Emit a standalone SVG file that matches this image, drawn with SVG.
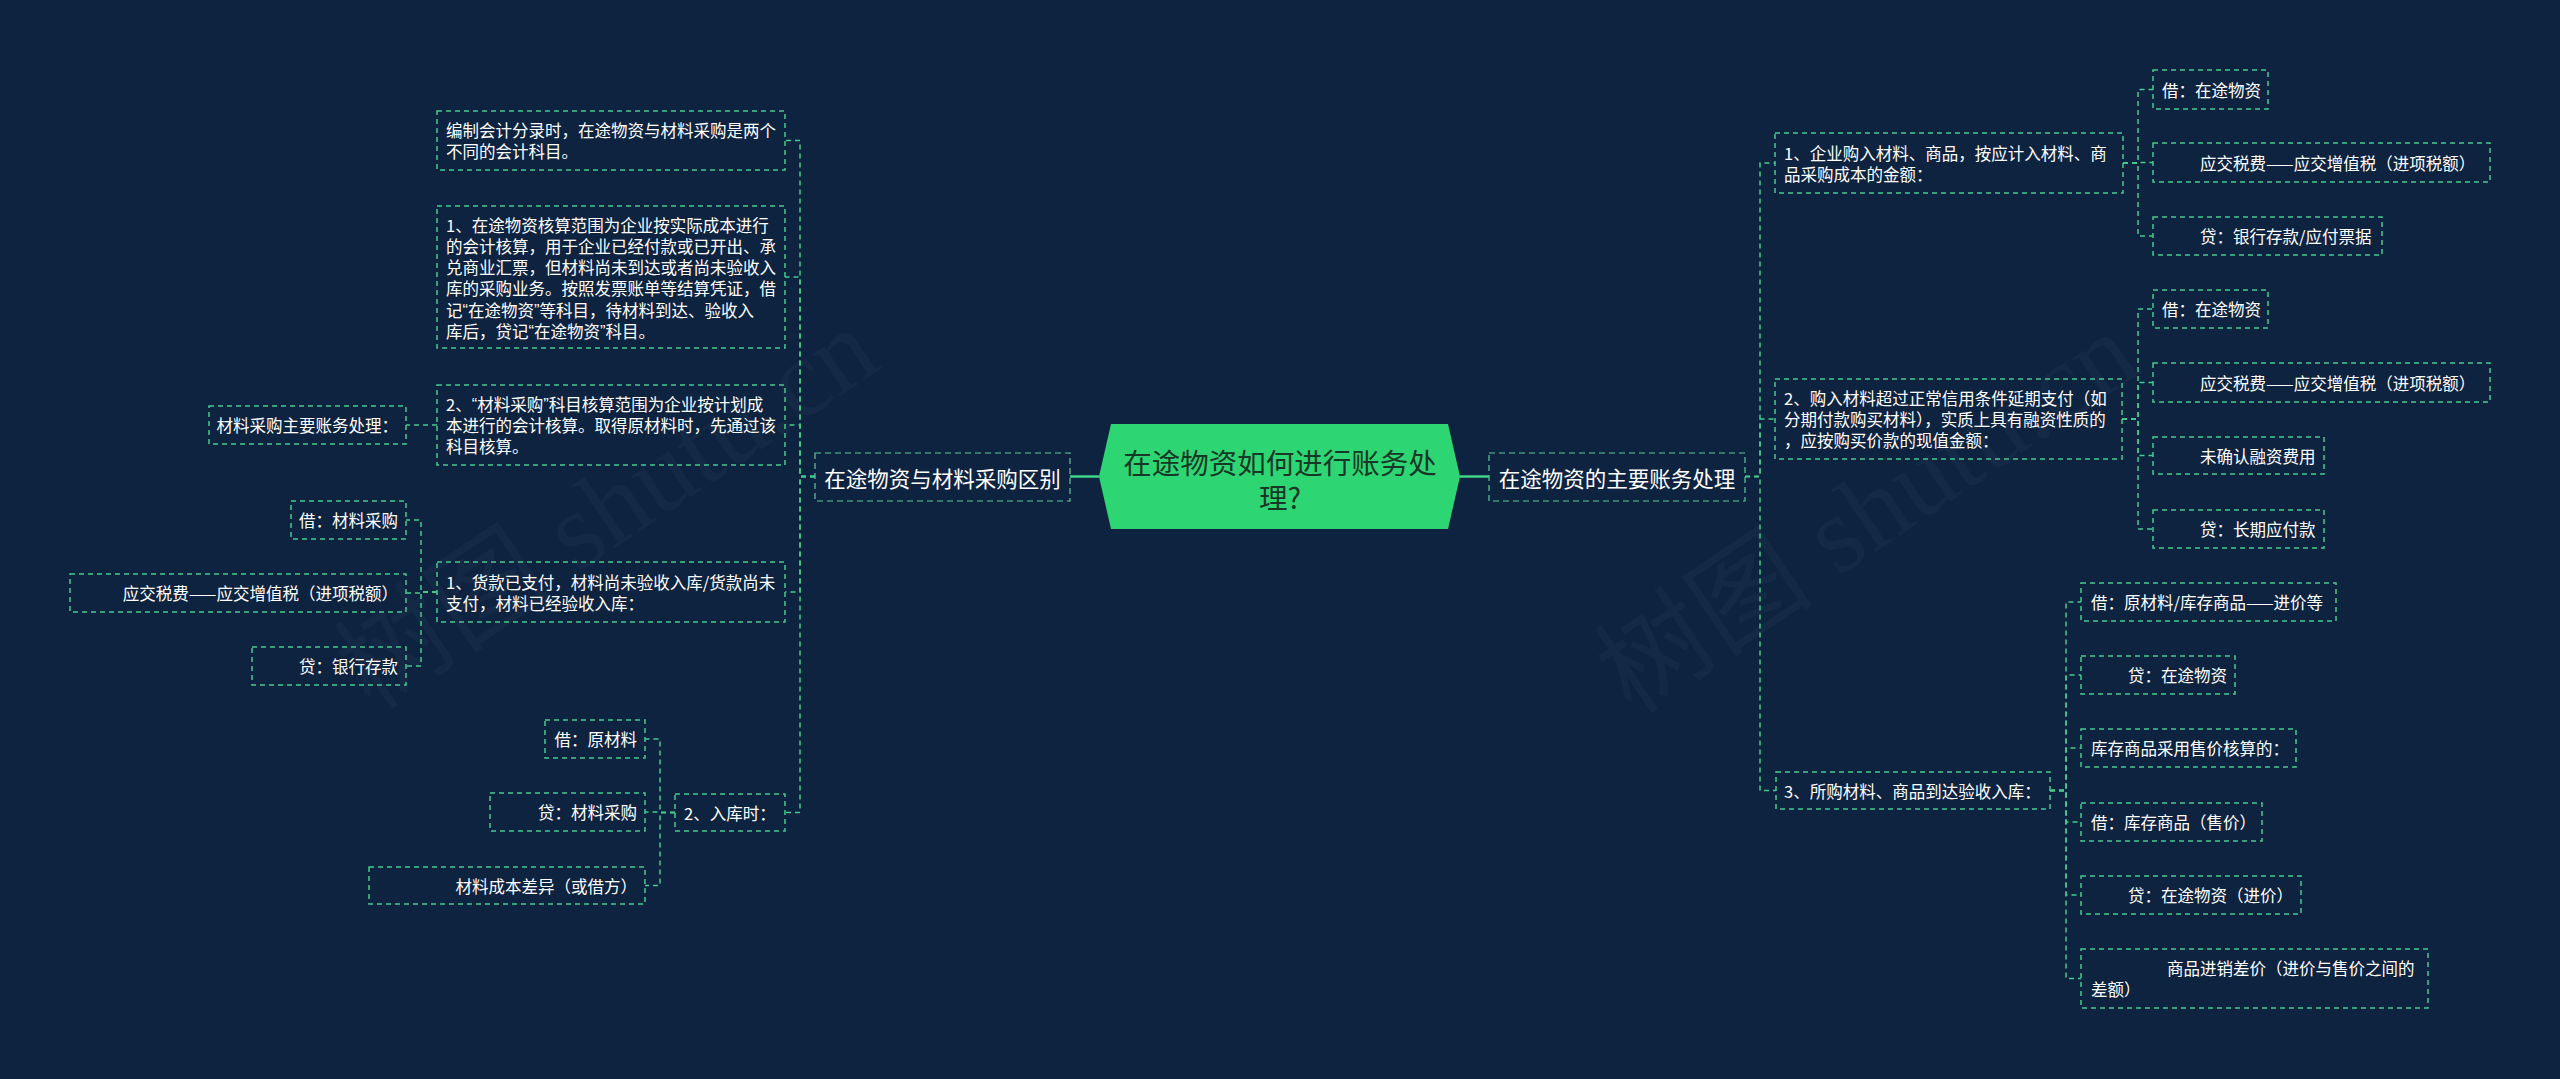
<svg xmlns="http://www.w3.org/2000/svg" width="2560" height="1079" viewBox="0 0 2560 1079">
<style>
.bg{fill:#0e2340}
.box{fill:none;stroke:#45c98c;stroke-width:1.5;stroke-dasharray:5 4}
.mbox{fill:none;stroke:#5cc996;stroke-width:1.2;stroke-dasharray:6 4}
.con{fill:none;stroke:#45c98c;stroke-width:1.5;stroke-dasharray:5 4}
.solid{fill:none;stroke:#3fd68a;stroke-width:2.5}
.t{font-family:"Noto Sans CJK SC","Noto Sans",sans-serif;font-size:16.5px;fill:#ffffff;dominant-baseline:central}
.e{text-anchor:end}
.q{font-family:"Liberation Sans",sans-serif}
.m{font-family:"Noto Sans CJK SC","Noto Sans",sans-serif;font-size:21.5px;fill:#ffffff;dominant-baseline:central;text-anchor:middle}
.c{font-family:"Noto Sans CJK SC","Noto Sans",sans-serif;font-size:28.5px;fill:#173826;dominant-baseline:central;text-anchor:middle}
.wm{font-family:"Liberation Serif","Noto Sans CJK SC",serif;font-size:110px;fill:#ffffff;opacity:0.022}
</style>
<rect class="bg" x="0" y="0" width="2560" height="1079"/>
<text class="wm" transform="translate(372 712) rotate(-34)">树图 shutu.cn</text>
<text class="wm" transform="translate(1632 716) rotate(-34)">树图 shutu.cn</text>

<g id="connectors">
<path class="solid" d="M1070 476.5 H1099"/>
<path class="solid" d="M1460 476.5 H1489"/>
<path class="con" d="M815 476.5 H800 V140.5 H785"/>
<path class="con" d="M815 476.5 H800 V277 H785"/>
<path class="con" d="M815 476.5 H800 V425 H785"/>
<path class="con" d="M815 476.5 H800 V592 H785"/>
<path class="con" d="M815 476.5 H800 V812.5 H785"/>
<path class="con" d="M437 425 H406"/>
<path class="con" d="M437 592 H421 V520 H406"/>
<path class="con" d="M437 592 H421 V593 H406"/>
<path class="con" d="M437 592 H421 V666 H406"/>
<path class="con" d="M675 812.5 H660 V739 H645"/>
<path class="con" d="M675 812.5 H660 V812 H645"/>
<path class="con" d="M675 812.5 H660 V885.5 H645"/>
<path class="con" d="M1745 476.5 H1760 V163 H1775"/>
<path class="con" d="M1745 476.5 H1760 V419 H1775"/>
<path class="con" d="M1745 476.5 H1760 V790.5 H1776"/>
<path class="con" d="M2123 163 H2138 V89.5 H2153"/>
<path class="con" d="M2123 163 H2138 V162.5 H2153"/>
<path class="con" d="M2123 163 H2138 V236 H2153"/>
<path class="con" d="M2122 419 H2138 V309 H2153"/>
<path class="con" d="M2122 419 H2138 V382.5 H2153"/>
<path class="con" d="M2122 419 H2138 V455.5 H2153"/>
<path class="con" d="M2122 419 H2138 V529 H2153"/>
<path class="con" d="M2050 790.5 H2066 V602 H2081"/>
<path class="con" d="M2050 790.5 H2066 V675 H2081"/>
<path class="con" d="M2050 790.5 H2066 V748 H2081"/>
<path class="con" d="M2050 790.5 H2066 V822 H2081"/>
<path class="con" d="M2050 790.5 H2066 V895 H2081"/>
<path class="con" d="M2050 790.5 H2066 V978.5 H2081"/>
</g>

<g id="root">
<polygon points="1111,424 1448,424 1460,476.5 1448,529 1111,529 1099,476.5" fill="#2ed573"/>
<text class="c" x="1280" y="461">在途物资如何进行账务处</text>
<text class="c" x="1280" y="496">理?</text>
</g>

<g id="left-main">
<rect class="mbox" x="815" y="453" width="255" height="48"/>
<text class="m" x="942.5" y="477">在途物资与材料采购区别</text>
</g>
<g id="right-main">
<rect class="mbox" x="1489" y="453" width="256" height="48"/>
<text class="m" x="1617" y="477">在途物资的主要账务处理</text>
</g>

<g id="l1">
<rect class="box" x="437" y="111" width="348" height="59"/>
<text class="t" x="446" y="130">编制会计分录时，在途物资与材料采购是两个</text>
<text class="t" x="446" y="151">不同的会计科目。</text>
</g>
<g id="l2">
<rect class="box" x="437" y="206" width="348" height="142"/>
<text class="t" x="446" y="225">1、在途物资核算范围为企业按实际成本进行</text>
<text class="t" x="446" y="246">的会计核算，用于企业已经付款或已开出、承</text>
<text class="t" x="446" y="267">兑商业汇票，但材料尚未到达或者尚未验收入</text>
<text class="t" x="446" y="288">库的采购业务。按照发票账单等结算凭证，借</text>
<text class="t" x="446" y="309.5">记<tspan class="q">“</tspan>在途物资<tspan class="q">”</tspan>等科目，待材料到达、验收入</text>
<text class="t" x="446" y="330.5">库后，贷记<tspan class="q">“</tspan>在途物资<tspan class="q">”</tspan>科目。</text>
</g>
<g id="l3">
<rect class="box" x="437" y="385" width="348" height="80"/>
<text class="t" x="446" y="404">2、<tspan class="q">“</tspan>材料采购<tspan class="q">”</tspan>科目核算范围为企业按计划成</text>
<text class="t" x="446" y="425">本进行的会计核算。取得原材料时，先通过该</text>
<text class="t" x="446" y="446">科目核算。</text>
</g>
<g id="l3a">
<rect class="box" x="209" y="406" width="197" height="38"/>
<text class="t e" x="398" y="425">材料采购主要账务处理：</text>
</g>
<g id="l4">
<rect class="box" x="437" y="562" width="348" height="60"/>
<text class="t" x="446" y="582">1、货款已支付，材料尚未验收入库/货款尚未</text>
<text class="t" x="446" y="603">支付，材料已经验收入库：</text>
</g>
<g id="l4a">
<rect class="box" x="291" y="501" width="115" height="38"/>
<text class="t e" x="398" y="520">借：材料采购</text>
</g>
<g id="l4b">
<rect class="box" x="70" y="574" width="336" height="38"/>
<text class="t e" x="398" y="593">应交税费——应交增值税（进项税额）</text>
</g>
<g id="l4c">
<rect class="box" x="252" y="647" width="154" height="38"/>
<text class="t e" x="398" y="666">贷：银行存款</text>
</g>
<g id="l5">
<rect class="box" x="675" y="794" width="110" height="37"/>
<text class="t" x="684" y="812.5">2、入库时：</text>
</g>
<g id="l5a">
<rect class="box" x="545" y="720" width="100" height="38"/>
<text class="t e" x="637" y="739">借：原材料</text>
</g>
<g id="l5b">
<rect class="box" x="490" y="793" width="155" height="38"/>
<text class="t e" x="637" y="812">贷：材料采购</text>
</g>
<g id="l5c">
<rect class="box" x="369" y="867" width="276" height="37"/>
<text class="t e" x="637" y="885.5">材料成本差异（或借方）</text>
</g>

<g id="r1">
<rect class="box" x="1775" y="133" width="348" height="60"/>
<text class="t" x="1784" y="153">1、企业购入材料、商品，按应计入材料、商</text>
<text class="t" x="1784" y="174">品采购成本的金额：</text>
</g>
<g id="r1a">
<rect class="box" x="2153" y="70" width="115" height="39"/>
<text class="t" x="2162" y="89.5">借：在途物资</text>
</g>
<g id="r1b">
<rect class="box" x="2153" y="143" width="337" height="39"/>
<text class="t" x="2200" y="162.5">应交税费——应交增值税（进项税额）</text>
</g>
<g id="r1c">
<rect class="box" x="2153" y="217" width="229" height="38"/>
<text class="t" x="2200" y="236">贷：银行存款/应付票据</text>
</g>
<g id="r2">
<rect class="box" x="1775" y="379" width="347" height="80"/>
<text class="t" x="1784" y="398">2、购入材料超过正常信用条件延期支付（如</text>
<text class="t" x="1784" y="419">分期付款购买材料），实质上具有融资性质的</text>
<text class="t" x="1784" y="440">，应按购买价款的现值金额：</text>
</g>
<g id="r2a">
<rect class="box" x="2153" y="290" width="115" height="38"/>
<text class="t" x="2162" y="309">借：在途物资</text>
</g>
<g id="r2b">
<rect class="box" x="2153" y="363" width="337" height="39"/>
<text class="t" x="2200" y="382.5">应交税费——应交增值税（进项税额）</text>
</g>
<g id="r2c">
<rect class="box" x="2153" y="437" width="171" height="37"/>
<text class="t" x="2200" y="455.5">未确认融资费用</text>
</g>
<g id="r2d">
<rect class="box" x="2153" y="510" width="171" height="38"/>
<text class="t" x="2200" y="529">贷：长期应付款</text>
</g>
<g id="r3">
<rect class="box" x="1776" y="772" width="274" height="37"/>
<text class="t" x="1784" y="790.5">3、所购材料、商品到达验收入库：</text>
</g>
<g id="r3a">
<rect class="box" x="2081" y="583" width="255" height="38"/>
<text class="t" x="2091" y="602">借：原材料/库存商品——进价等</text>
</g>
<g id="r3b">
<rect class="box" x="2081" y="656" width="154" height="38"/>
<text class="t" x="2128" y="675">贷：在途物资</text>
</g>
<g id="r3c">
<rect class="box" x="2081" y="729" width="215" height="38"/>
<text class="t" x="2091" y="748">库存商品采用售价核算的：</text>
</g>
<g id="r3d">
<rect class="box" x="2081" y="803" width="181" height="38"/>
<text class="t" x="2091" y="822">借：库存商品（售价）</text>
</g>
<g id="r3e">
<rect class="box" x="2081" y="876" width="220" height="38"/>
<text class="t" x="2128" y="895">贷：在途物资（进价）</text>
</g>
<g id="r3f">
<rect class="box" x="2081" y="949" width="347" height="59"/>
<text class="t" x="2167" y="968">商品进销差价（进价与售价之间的</text>
<text class="t" x="2091" y="989">差额）</text>
</g>
</svg>
